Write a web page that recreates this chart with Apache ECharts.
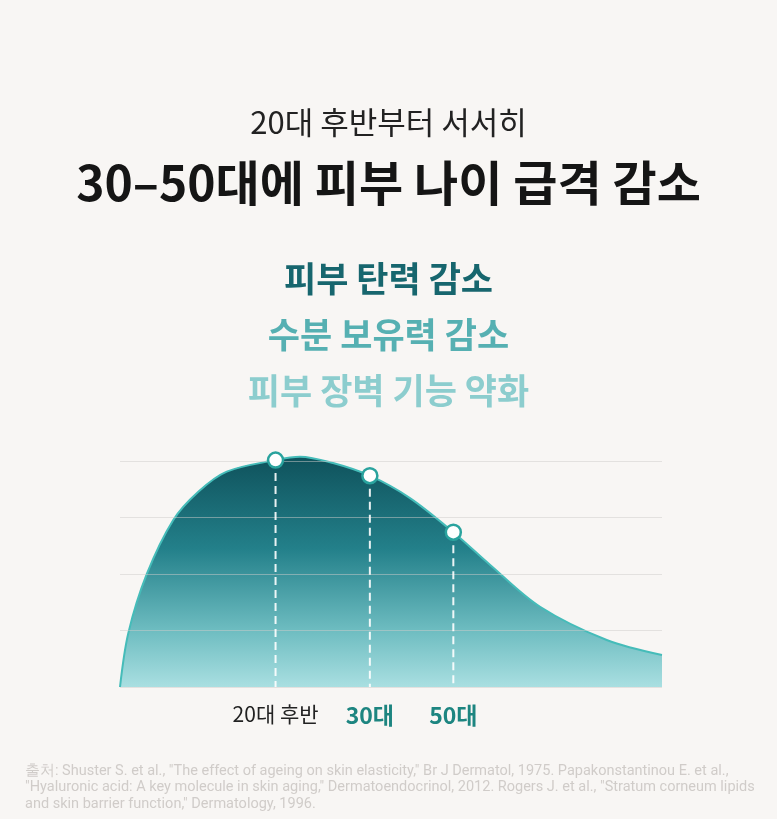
<!DOCTYPE html>
<html>
<head>
<meta charset="utf-8">
<script src="https://cdn.jsdelivr.net/npm/echarts@6/dist/echarts.min.js"></script>
<style>
	html, body { margin: 0; padding: 0; background: #f8f6f4; }
	#main { width: 777px; height: 819px; }
</style>
</head>
<body>
<div id="main"></div>
<script>
// skin curve (age position 0-100, level 0-100)
var curveX = [0, 1.53, 4.93, 9.83, 14.45, 19.7, 28.7, 33.2, 39.3, 46.1, 53.5, 61.5, 68.3, 77.5, 89.8, 100];
var curveY = [0, 23.8, 49.9, 73.9, 86.4, 95.3, 100.4, 101.9, 99.1, 93.5, 83.6, 68.5, 54.0, 35.5, 20.8, 14.2];

var markerLabels = ['20대 후반', '30대', '50대'];
var markerX = [28.7, 46.1, 61.5];
var markerY = [100.4, 93.5, 68.5];

var headLines = ['20대 후반부터 서서히', '30–50대에 피부 나이 급격 감소'];
var effectLines = ['피부 탄력 감소', '수분 보유력 감소', '피부 장벽 기능 약화'];
var sourceText = '출처: Shuster S. et al., "The effect of ageing on skin elasticity," Br J Dermatol, 1975. Papakonstantinou E. et al.,\n' +
	'"Hyaluronic acid: A key molecule in skin aging," Dermatoendocrinol, 2012. Rogers J. et al., "Stratum corneum lipids\n' +
	'and skin barrier function," Dermatology, 1996.';

var KR = '"Noto Sans CJK KR", "Noto Sans", sans-serif';

var chart = echarts.init(document.getElementById('main'));

var curveData = curveX.map(function (x, i) { return [x, curveY[i]]; });
var markerData = markerX.map(function (x, i) { return [x, markerY[i]]; });

var effectColors = ['#17666e', '#56b0b2', '#8ccdce'];
var titles = [{
	text: headLines[0], left: 'center', top: 102,
	textStyle: { fontFamily: KR, fontSize: 31, fontWeight: 'normal', color: '#222' }
}, {
	text: headLines[1], left: 'center', top: 154,
	textStyle: { fontFamily: KR, fontSize: 48, fontWeight: 'bold', color: '#151515' }
}];
effectLines.forEach(function (t, i) {
	titles.push({
		text: t, left: 'center', top: 256 + i * 56,
		textStyle: { fontFamily: KR, fontSize: 35, fontWeight: 'bold', color: effectColors[i] }
	});
});
titles.push({
	text: sourceText, left: 20, top: 758,
	textStyle: { fontFamily: 'Roboto, sans-serif', fontSize: 14.5, fontWeight: 'normal', color: '#d0ccc9', lineHeight: 16.5 }
});

var option = {
	backgroundColor: '#f8f6f4',
	animation: false,
	title: titles,
	grid: { left: 120, right: 115, top: 461, bottom: 132 },
	xAxis: {
		type: 'value', min: 0, max: 100,
		axisLine: { show: false },
		axisTick: { show: false },
		splitLine: { show: false },
		axisLabel: {
			customValues: markerX,
			margin: 17,
			formatter: function (v) {
				var i = markerX.indexOf(v);
				if (i < 0) return '';
				return i === 0 ? '{a|' + markerLabels[i] + '}' : '{b|' + markerLabels[i] + '}';
			},
			rich: {
				a: { fontFamily: KR, fontSize: 21, color: '#222' },
				b: { fontFamily: KR, fontSize: 23, fontWeight: 'bold', color: '#1d8580' }
			}
		}
	},
	yAxis: {
		type: 'value', min: 0, max: 100, interval: 25,
		z: 5,
		axisLine: { show: false },
		axisTick: { show: false },
		axisLabel: { show: false },
		splitLine: { lineStyle: { color: 'rgba(205,203,201,0.5)', width: 1 } }
	},
	series: [{
		type: 'line',
		data: curveData,
		smooth: 0.33,
		clip: false,
		showSymbol: false,
		z: 2,
		lineStyle: { color: '#45bcb9', width: 2 },
		areaStyle: {
			opacity: 1,
			color: new echarts.graphic.LinearGradient(0, 0, 0, 1, [
				{ offset: 0, color: '#0f525c' },
				{ offset: 0.4, color: '#23808a' },
				{ offset: 0.75, color: '#6dbcc0' },
				{ offset: 1, color: '#a9dfe1' }
			])
		}
	}, {
		// dashed drop lines from each marker to the baseline
		type: 'custom',
		data: markerData,
		clip: false,
		silent: true,
		z: 6,
		renderItem: function (params, api) {
			var top = api.coord([api.value(0), api.value(1)]);
			var base = api.coord([api.value(0), 0]);
			return {
				type: 'line',
				shape: { x1: top[0], y1: top[1], x2: base[0], y2: base[1] },
				style: { stroke: 'rgba(255,255,255,0.9)', lineWidth: 2, lineDash: [8, 5] }
			};
		}
	}, {
		type: 'scatter',
		data: markerData,
		clip: false,
		z: 10,
		symbol: 'circle',
		symbolSize: 15,
		itemStyle: { color: '#ffffff', borderColor: '#2aa39e', borderWidth: 2.5, opacity: 1 }
	}]
};

chart.setOption(option);
</script>
</body>
</html>
